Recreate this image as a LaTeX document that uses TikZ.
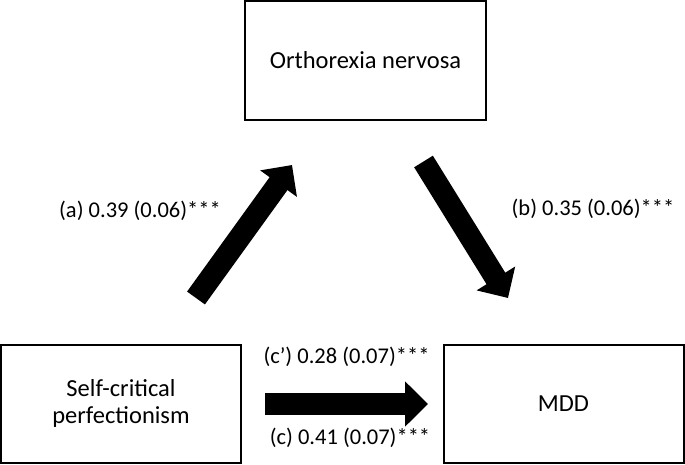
\documentclass[tikz,border=0pt]{standalone}
\usepackage{fontspec}
\setmainfont{Carlito}
\usetikzlibrary{arrows.meta, positioning}
\tikzset{
  med box/.style={
    rectangle, draw=black, line width=2pt,
    minimum width=240pt, minimum height=118pt,
    align=center, font=\fontsize{24.5}{27}\selectfont,
    inner sep=2pt
  },
  med arrow/.style={
    line width=22pt, draw=black,
    -{Triangle[length=23pt, width=44pt]}
  },
  med label/.style={
    font=\fontsize{22.5}{26}\selectfont, inner sep=1pt
  }
}
\begin{document}
\begin{tikzpicture}[x=1pt, y=-1pt]
  \useasboundingbox (0,0) rectangle (685,465);
  % boxes
  \node (ortho) [med box, minimum width=241pt, minimum height=119pt] at (365.5,60.5) {Orthorexia nervosa};
  \node (scp) [med box] at (121,403.5) {Self-critical\\perfectionism};
  \node (mdd) [med box] at (563.5,403.5) {MDD};
  % arrow ends
  \coordinate (a tail) at (196,298);
  \coordinate (a head) at (292,165);
  \coordinate (b tail) at (423.5,161.5);
  \coordinate (b head) at (508,298);
  \coordinate (c tail) at (265,404);
  \coordinate (c head) at (428,404);

  \draw [med arrow] (a tail) -- (a head);
  \draw [med arrow] (b tail) -- (b head);
  \draw [med arrow] (c tail) -- (c head);

  % labels
  \node (lab a) [med label] at (140,211) {(a) 0.39 (0.06)***};
  \node (lab b) [med label] at (593,209) {(b) 0.35 (0.06)***};
  \node (lab cp) [med label] at (346.5,357) {(c’) 0.28 (0.07)***};
  \node (lab c) [med label] at (350,438) {(c) 0.41 (0.07)***};
\end{tikzpicture}
\end{document}
